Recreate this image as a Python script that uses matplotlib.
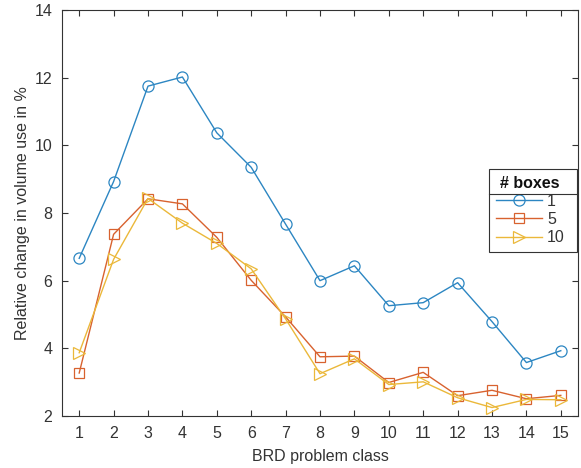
import matplotlib
matplotlib.use("Agg")
import matplotlib.pyplot as plt
from matplotlib.lines import Line2D
from matplotlib.patches import Rectangle

plt.rcParams['font.family'] = ['Liberation Sans', 'DejaVu Sans']

classes = list(range(1, 16))
boxes_1 = [6.66, 8.93, 11.75, 12.02, 10.37, 9.35, 7.67, 6.0, 6.44, 5.26, 5.35, 5.94, 4.79, 3.58, 3.93]
boxes_5 = [3.27, 7.37, 8.42, 8.27, 7.28, 6.01, 4.93, 3.75, 3.77, 2.99, 3.29, 2.60, 2.76, 2.51, 2.61]
boxes_10 = [3.87, 6.63, 8.43, 7.70, 7.10, 6.35, 4.87, 3.25, 3.69, 2.93, 3.01, 2.54, 2.25, 2.49, 2.48]
series_labels = ['1', '5', '10']
yticks = [2, 4, 6, 8, 10, 12, 14]

colors = ['#2c86c2', '#d8622f', '#ebb83a']
markers = ['o', 's', '>']
msizes = [8, 7, 9]
txt = '#333333'

fig = plt.figure(figsize=(5.81, 4.68), dpi=100)
ax = fig.add_axes([62/581, 1 - 416/468, (578-62)/581, (416-10)/468])

for data, lab, c, m, ms in zip([boxes_1, boxes_5, boxes_10], series_labels, colors, markers, msizes):
    ax.plot(classes, data, color=c, marker=m, markersize=ms, markerfacecolor='none',
            markeredgecolor=c, markeredgewidth=0.9, linewidth=1.0, label=lab)

ax.set_xlim(0.5, 15.5)
ax.set_ylim(2, 14)
ax.set_xticks(classes)
ax.set_yticks(yticks)
ax.tick_params(direction='in', top=True, right=True, length=4, width=0.8,
               labelsize=11.5, colors=txt, pad=7)
for s in ax.spines.values():
    s.set_color('#333333')
    s.set_linewidth(0.8)
ax.set_xlabel('BRD problem class', fontsize=11.5, color=txt, labelpad=6)
ax.set_ylabel('Relative change in volume use in %', fontsize=11.5, color=txt, labelpad=3)

leg = ax.legend(title='# boxes', loc='upper right', bbox_to_anchor=(0.9865, 0.608),
                fontsize=11.5, title_fontproperties={'weight': 'bold', 'size': 11.5},
                handlelength=2.9, frameon=True, fancybox=False, edgecolor='#333333',
                borderpad=0.4, labelspacing=0.2, handletextpad=0.3, borderaxespad=0)
leg.get_frame().set_visible(False)
leg.get_title().set_color('#111111')
for t in leg.get_texts():
    t.set_color(txt)
leg.set_zorder(5)

fig.canvas.draw()
r = fig.canvas.get_renderer()
fb = leg.get_frame().get_window_extent(r)
tb = leg.get_title().get_window_extent(r)
inv = ax.transAxes.inverted()
(ax0, ay0) = inv.transform((fb.x0, fb.y0))
(ax1, ay1) = inv.transform((fb.x1 + 6, fb.y1))
(_, ayl) = inv.transform((fb.x0, tb.y0 - 3))
ax.add_artist(Rectangle((ax0, ay0), ax1 - ax0, ay1 - ay0, transform=ax.transAxes,
                        facecolor='white', edgecolor='#333333', linewidth=0.8,
                        zorder=4, clip_on=False))
ax.add_artist(Line2D([ax0, ax1], [ayl, ayl], transform=ax.transAxes, color='#333333',
                     linewidth=0.8, zorder=6, clip_on=False))

fig.savefig('out.png', dpi=100, facecolor='white')
